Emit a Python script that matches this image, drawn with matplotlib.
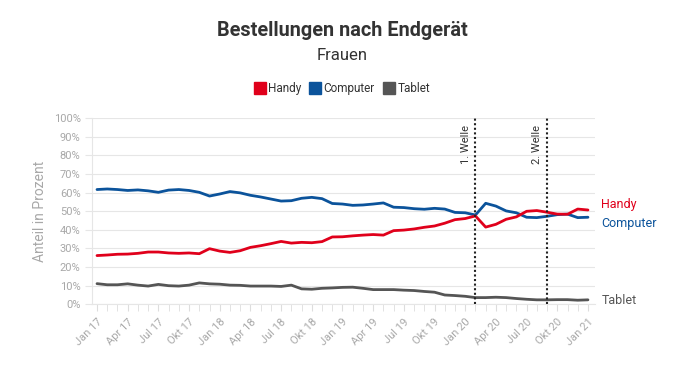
import numpy as np
import matplotlib.pyplot as plt
from matplotlib.lines import Line2D

# Monatswerte Jan 17 - Jan 21 (Anteil in Prozent)
handy = [26.2, 26.5, 26.9, 27.0, 27.4, 28.1, 28.1, 27.6, 27.4, 27.6, 27.2, 29.9,
         28.6, 27.9, 28.8, 30.6, 31.5, 32.6, 33.8, 32.9, 33.3, 33.1, 33.7, 36.2,
         36.3, 36.8, 37.2, 37.5, 37.2, 39.6, 39.9, 40.5, 41.4, 42.1, 43.6, 45.5,
         46.1, 47.5, 41.5, 43.0, 45.7, 47.0, 50.0, 50.4, 49.5, 48.5, 48.4, 51.2, 50.7]
computer = [61.7, 62.0, 61.7, 61.2, 61.5, 61.0, 60.2, 61.4, 61.7, 61.2, 60.2, 58.2,
            59.3, 60.6, 59.9, 58.6, 57.7, 56.6, 55.5, 55.7, 57.0, 57.5, 56.8, 54.2,
            53.9, 53.2, 53.4, 53.9, 54.5, 52.2, 52.0, 51.4, 51.1, 51.6, 51.2, 49.4,
            49.2, 48.0, 54.3, 52.8, 50.2, 49.2, 46.8, 46.6, 47.3, 48.2, 48.5, 46.6, 46.8]
tablet = [11.1, 10.5, 10.5, 11.0, 10.3, 9.8, 10.7, 10.0, 9.8, 10.3, 11.5, 11.0,
          10.8, 10.3, 10.2, 9.8, 9.8, 9.8, 9.6, 10.3, 8.3, 8.1, 8.6, 8.8,
          9.1, 9.2, 8.6, 7.9, 7.9, 7.9, 7.6, 7.4, 6.9, 6.5, 5.0, 4.7,
          4.3, 3.6, 3.6, 3.8, 3.6, 3.1, 2.7, 2.4, 2.4, 2.5, 2.5, 2.2, 2.4]

monate = ['Jan 17', 'Apr 17', 'Jul 17', 'Okt 17', 'Jan 18', 'Apr 18', 'Jul 18', 'Okt 18',
          'Jan 19', 'Apr 19', 'Jul 19', 'Okt 19', 'Jan 20', 'Apr 20', 'Jul 20', 'Okt 20', 'Jan 21']
wellen = ['1. Welle', '2. Welle']
wellen_monat = [37, 44]  # Feb 20, Sep 20

rot = '#e0001b'
blau = '#0b539b'
grau = '#555555'

plt.rcParams['font.family'] = ['Roboto', 'DejaVu Sans']

x = np.arange(len(handy))

fig = plt.figure(figsize=(6.92, 3.72), dpi=100)
ax = fig.add_axes([0.1325, 0.182, 0.7275, 0.5])

ax.plot(x, computer, color=blau, lw=2.0, solid_capstyle='round')
ax.plot(x, handy, color=rot, lw=2.0, solid_capstyle='round')
ax.plot(x, tablet, color=grau, lw=2.0, solid_capstyle='round')

for m, name in zip(wellen_monat, wellen):
    ax.axvline(m, color='#222222', lw=1.5, ls=(0, (1, 1.2)), zorder=5)
    ax.text(m - 0.45, 96.5, name, rotation=90, ha='right', va='top',
            fontsize=8, color='#333333')

ax.set_xlim(-0.52, 48.7)
ax.set_ylim(0, 100)
ax.set_yticks(np.arange(0, 101, 10))
ax.set_yticklabels([f'{v}%' for v in range(0, 101, 10)])
ax.set_xticks(np.arange(0, 49, 3))
ax.set_xticklabels(monate, rotation=45, ha='right', rotation_mode='anchor')
ax.set_xticks(x, minor=True)

ax.grid(axis='y', color='#e6e6e6', lw=0.8)
ax.set_axisbelow(True)
for s in ['top', 'right']:
    ax.spines[s].set_visible(False)
ax.spines['left'].set_color('#e6e6e6')
ax.spines['bottom'].set_color('#e6e6e6')
ax.tick_params(axis='y', length=5, color='#e6e6e6', labelsize=8, labelcolor='#a8a8a8', pad=3)
ax.tick_params(axis='x', which='both', length=5, color='#dddddd', labelsize=8,
               labelcolor='#a8a8a8', pad=4)

ax.set_ylabel('Anteil in Prozent', color='#a8a8a8', fontsize=10, labelpad=5)

# Beschriftungen am Linienende
ax.text(49.3, 53.9, 'Handy', color=rot, fontsize=9, va='center', clip_on=False)
ax.text(49.3, 43.2, 'Computer', color=blau, fontsize=9, va='center', clip_on=False)
ax.text(49.3, 2.3, 'Tablet', color=grau, fontsize=9, va='center', clip_on=False)

fig.text(0.495, 0.919, 'Bestellungen nach Endgerät', ha='center', va='center',
         fontsize=14.3, fontweight='bold', color='#333333')
fig.text(0.495, 0.852, 'Frauen', ha='center', va='center', fontsize=12, color='#333333')

handles = [Line2D([], [], ls='', marker='s', markersize=9, color=c) for c in (rot, blau, grau)]
fig.legend(handles, ['Handy', 'Computer', 'Tablet'], loc='center', bbox_to_anchor=(0.494, 0.762),
           ncol=3, frameon=False, fontsize=8.5, handletextpad=0.2, columnspacing=0.7,
           labelcolor='#333333', handlelength=1.0)

fig.savefig('out.png', dpi=100)
